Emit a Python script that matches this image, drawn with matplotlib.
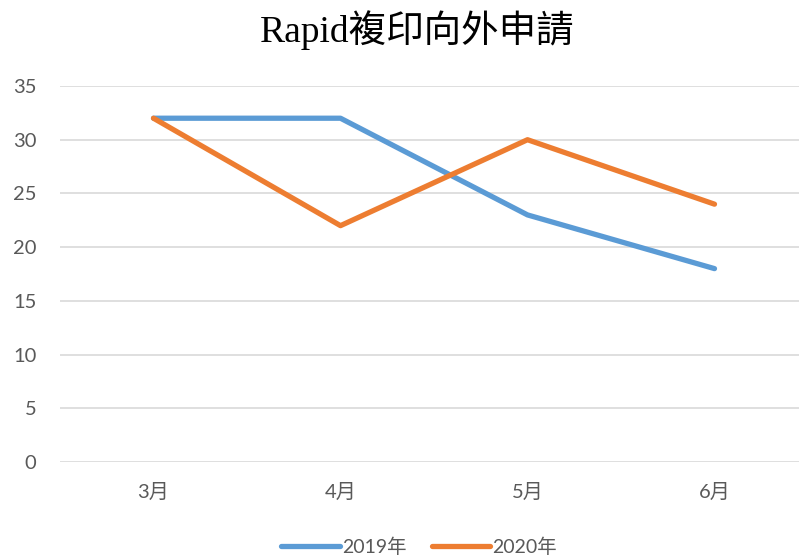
import matplotlib
matplotlib.use("Agg")
import matplotlib.pyplot as plt
from matplotlib.lines import Line2D

months = ["3月", "4月", "5月", "6月"]
series_names = ["2019年", "2020年"]
values_2019 = [32, 32, 23, 18]
values_2020 = [32, 22, 30, 24]
yticks = [0, 5, 10, 15, 20, 25, 30, 35]

W, H = 799, 559
fig = plt.figure(figsize=(W / 100, H / 100), dpi=100)
x0, x1 = 60, 808
ybot, ytop = 462, 86
ax = fig.add_axes([x0 / W, 1 - ybot / H, (x1 - x0) / W, (ybot - ytop) / H])

lab_font = ["Lato", "Noto Sans CJK TC"]
grey = "#595959"
colors = ["#5B9BD5", "#ED7D31"]

xs = range(len(months))
ax.plot(xs, values_2019, color=colors[0], lw=3.8, solid_capstyle="round", solid_joinstyle="round", label=series_names[0], zorder=3)
ax.plot(xs, values_2020, color=colors[1], lw=3.8, solid_capstyle="round", solid_joinstyle="round", label=series_names[1], zorder=4)

ax.set_xlim(-0.5, len(months) - 0.5)
ax.set_ylim(0, 35)
ax.set_yticks(yticks)
ax.set_xticks(list(xs))
ax.set_xticklabels(months)
for s in ax.spines.values():
    s.set_visible(False)
ax.grid(axis="y", color="#D9D9D9", lw=1.2)
ax.set_axisbelow(True)
ax.tick_params(length=0, colors=grey, labelsize=14.5)
ax.tick_params(axis="y", pad=17)
ax.tick_params(axis="x", pad=15)
for t in ax.get_xticklabels() + ax.get_yticklabels():
    t.set_family(lab_font)
    t.set_color(grey)

fig.text(417 / W, 1 - 30 / H, "Rapid複印向外申請", ha="center", va="center",
         fontsize=27, family=["Liberation Serif", "Noto Sans CJK TC"], color="black")

handles = [Line2D([], [], color=c, lw=3.8, solid_capstyle="round") for c in colors]
leg = fig.legend(handles, series_names, loc="center", bbox_to_anchor=(419 / W, 1 - 547 / H),
                 ncol=2, frameon=False, handlelength=3.0, handletextpad=0.1, columnspacing=1.3,
                 prop={"family": lab_font, "size": 14})
for t in leg.get_texts():
    t.set_color(grey)

fig.savefig("out.png", dpi=100)
